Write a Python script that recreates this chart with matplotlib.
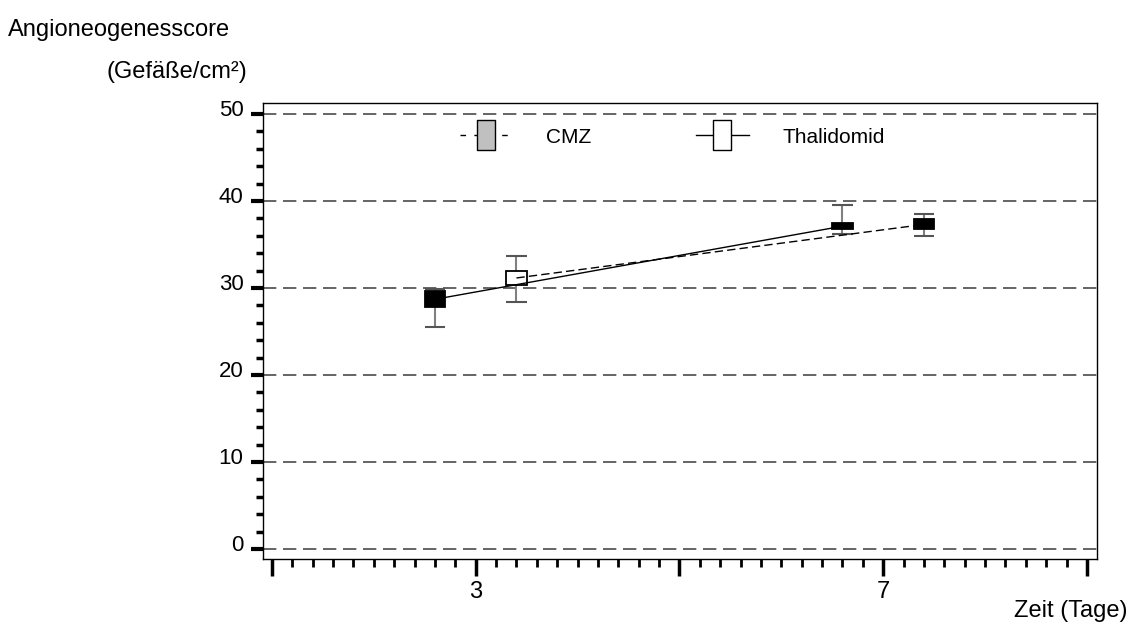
# -*- coding: utf-8 -*-
import matplotlib
matplotlib.use('Agg')
import matplotlib.pyplot as plt
import matplotlib.transforms as mtrans
from matplotlib.lines import Line2D
from matplotlib.path import Path
from matplotlib.ticker import MultipleLocator
import numpy as np

plt.rcParams['font.family'] = ['Liberation Sans', 'DejaVu Sans']

# days and the two groups
days = [3, 7]
series = ['CMZ', 'Thalidomid']
offsets = {'Thalidomid': -0.4, 'CMZ': 0.4}
means = {'Thalidomid': [28.7, 37.1], 'CMZ': [31.15, 37.3]}
box_lo = {'Thalidomid': [27.8, 36.75], 'CMZ': [30.3, 36.75]}
box_hi = {'Thalidomid': [29.7, 37.45], 'CMZ': [32.0, 37.9]}
whisk_lo = {'Thalidomid': [25.5, 36.2], 'CMZ': [28.4, 36.0]}
whisk_hi = {'Thalidomid': [29.9, 39.5], 'CMZ': [33.7, 38.5]}

# styles
box_face = {'Thalidomid': ['black', 'black'], 'CMZ': ['white', 'black']}
line_style = {'Thalidomid': '-', 'CMZ': (0, (6, 3))}
legend_face = {'CMZ': '#c0c0c0', 'Thalidomid': 'white'}
legend_ls = {'CMZ': (0, (4, 6)), 'Thalidomid': '-'}
box_w = 0.2

fig = plt.figure(figsize=(11.33, 6.28), dpi=100)
ax = fig.add_axes([0.2321, 0.1099, 0.7361, 0.7261])

for name in ['Thalidomid', 'CMZ']:
    xs = np.array(days) + offsets[name]
    lo = np.array(box_lo[name])
    hi = np.array(box_hi[name])
    ax.vlines(xs, whisk_lo[name], whisk_hi[name], color='#808080', lw=1.5, zorder=2)
    ax.hlines(whisk_lo[name], xs - box_w / 2, xs + box_w / 2, color='#555555', lw=1.5, zorder=2)
    ax.hlines(whisk_hi[name], xs - box_w / 2, xs + box_w / 2, color='#555555', lw=1.5, zorder=2)
    ax.bar(xs, hi - lo, bottom=lo, width=box_w, color=box_face[name],
           edgecolor='black', linewidth=1.3, zorder=3)
    ax.plot(xs, means[name], color='black', lw=1.0, linestyle=line_style[name], zorder=4)

ax.set_xlim(0.912, 9.098)
ax.set_ylim(-1.15, 51.26)

ax.yaxis.grid(True, linestyle=(0, (8, 4)), color='#4a4a4a', lw=1.2)
ax.set_axisbelow(True)

ax.set_xticks([1, 3, 5, 7, 9])
ax.set_xticklabels(['', '3', '', '7', ''])
ax.xaxis.set_minor_locator(MultipleLocator(0.2))
ax.set_yticks([0, 10, 20, 30, 40, 50])
ax.yaxis.set_minor_locator(MultipleLocator(2))

ax.tick_params(axis='y', which='major', length=9, width=3, labelsize=16, pad=5)
ax.tick_params(axis='y', which='minor', length=5, width=2.5)
ax.tick_params(axis='x', which='major', length=12, width=2.5, labelsize=17, pad=4)
ax.tick_params(axis='x', which='minor', length=6, width=2)
for sp in ax.spines.values():
    sp.set_linewidth(1.0)

shift = mtrans.ScaledTranslation(0, 6 / 100, fig.dpi_scale_trans)
for lbl in ax.get_yticklabels():
    lbl.set_transform(lbl.get_transform() + shift)

# tall rectangle marker for the legend
rect = Path([(-0.3, -0.5), (0.3, -0.5), (0.3, 0.5), (-0.3, 0.5), (-0.3, -0.5)],
            [Path.MOVETO, Path.LINETO, Path.LINETO, Path.LINETO, Path.CLOSEPOLY])
handles = [Line2D([], [], color='black', lw=1.0, linestyle=legend_ls[s], marker=rect,
                  markersize=21, markerfacecolor=legend_face[s],
                  markeredgecolor='black', markeredgewidth=1.0, label=s)
           for s in series]
ax.legend(handles=handles, ncol=2, loc='center left', bbox_to_anchor=(0.236, 0.925),
          frameon=False, fontsize=15, handlelength=2.55, handletextpad=1.6,
          columnspacing=5.0, borderpad=0, borderaxespad=0)

fig.text(8 / 1133, 1 - 30 / 628, 'Angioneogenesscore', fontsize=17, va='center', ha='left')
fig.text(107 / 1133, 1 - 72 / 628, '(Gefäße/cm²)', fontsize=17, va='center', ha='left')
fig.text(1128 / 1133, 1 - 611 / 628, 'Zeit (Tage)', fontsize=17, va='center', ha='right')

fig.savefig('out.png', dpi=100)
